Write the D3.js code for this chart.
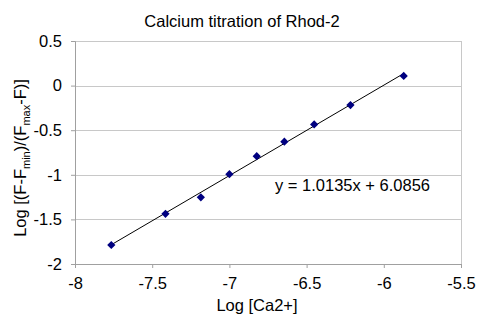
<!DOCTYPE html>
<html>
<head>
<meta charset="utf-8">
<script src="https://cdn.jsdelivr.net/npm/d3@7"></script>
<style>
  body { margin: 0; background: #fff; }
  svg text { font-family: "Liberation Sans", Arial, sans-serif; fill: #000; }
</style>
</head>
<body>
<div id="vis"></div>
<script>
const logCa = [-7.765, -7.414, -7.185, -7.0, -6.823, -6.644, -6.451, -6.216, -5.871];
const logRatio = [-1.787, -1.438, -1.252, -0.993, -0.791, -0.629, -0.435, -0.218, 0.108];
const xTicks = [-8, -7.5, -7, -6.5, -6, -5.5];
const yTicks = [-2, -1.5, -1, -0.5, 0, 0.5];
const slope = 1.0135;
const intercept = 6.0856;

const FRAME_WIDTH = 477;
const FRAME_HEIGHT = 316;
const MARGINS = {left: 75, right: 16, top: 41, bottom: 52};
const VIS_WIDTH = FRAME_WIDTH - MARGINS.left - MARGINS.right;
const VIS_HEIGHT = FRAME_HEIGHT - MARGINS.top - MARGINS.bottom;

const svg = d3.select("#vis").append("svg")
  .attr("width", FRAME_WIDTH)
  .attr("height", FRAME_HEIGHT);

const X_SCALE = d3.scaleLinear().domain([-8, -5.5]).range([MARGINS.left, MARGINS.left + VIS_WIDTH]);
const Y_SCALE = d3.scaleLinear().domain([-2, 0.5]).range([MARGINS.top + VIS_HEIGHT, MARGINS.top]);

// gridlines
svg.append("g").selectAll("line")
  .data(yTicks)
  .enter().append("line")
    .attr("x1", X_SCALE(-8)).attr("x2", X_SCALE(-5.5))
    .attr("y1", d => Math.round(Y_SCALE(d)) + 0.5)
    .attr("y2", d => Math.round(Y_SCALE(d)) + 0.5)
    .attr("stroke", "#c8c8c8");

// plot border
svg.append("rect")
  .attr("x", MARGINS.left + 0.5).attr("y", MARGINS.top + 0.5)
  .attr("width", VIS_WIDTH).attr("height", VIS_HEIGHT)
  .attr("fill", "none").attr("stroke", "#c8c8c8");

// axes - plain hyphen minus like the original
const fmt = d => String(d);
const xAxis = svg.append("g")
  .attr("transform", "translate(0," + (MARGINS.top + VIS_HEIGHT) + ")")
  .call(d3.axisBottom(X_SCALE).tickValues(xTicks).tickSize(4).tickPadding(6).tickFormat(fmt));
const yAxis = svg.append("g")
  .attr("transform", "translate(" + MARGINS.left + ",0)")
  .call(d3.axisLeft(Y_SCALE).tickValues(yTicks).tickSize(4).tickPadding(9).tickFormat(fmt));

[xAxis, yAxis].forEach(a => {
  a.select(".domain").attr("stroke", "#a0a0a0");
  a.selectAll(".tick line").attr("stroke", "#a0a0a0");
  a.selectAll("text").attr("font-size", "16.5px").attr("fill", "#000")
    .attr("font-family", "Liberation Sans, Arial, sans-serif");
});
xAxis.selectAll("text").attr("dy", "0.9em");

// trendline
const xr = d3.extent(logCa);
svg.append("line")
  .attr("x1", X_SCALE(xr[0])).attr("y1", Y_SCALE(slope * xr[0] + intercept))
  .attr("x2", X_SCALE(xr[1])).attr("y2", Y_SCALE(slope * xr[1] + intercept))
  .attr("stroke", "#000").attr("stroke-width", 1);

// markers
svg.append("g").selectAll("path")
  .data(logCa.map((x, i) => [x, logRatio[i]]))
  .enter().append("path")
    .attr("d", d3.symbol().type(d3.symbolSquare).size(34))
    .attr("transform", d => "translate(" + X_SCALE(d[0]) + "," + Y_SCALE(d[1]) + ") rotate(45)")
    .attr("fill", "#000080");

// equation
svg.append("text")
  .attr("x", 275).attr("y", 191)
  .attr("font-size", "16.5px")
  .text("y = 1.0135x + 6.0856");

// title
svg.append("text")
  .attr("x", 242).attr("y", 27)
  .attr("text-anchor", "middle")
  .attr("font-size", "16.5px")
  .text("Calcium titration of Rhod-2");

// x label
svg.append("text")
  .attr("x", 257).attr("y", 311)
  .attr("text-anchor", "middle")
  .attr("font-size", "16.5px")
  .text("Log [Ca2+]");

// y label
const yl = svg.append("text")
  .attr("transform", "translate(26,158) rotate(-90)")
  .attr("text-anchor", "middle")
  .attr("font-size", "16.5px");
yl.append("tspan").text("Log [(F-F");
yl.append("tspan").attr("font-size", "11px").attr("dy", 4).text("min");
yl.append("tspan").attr("dy", -4).text(")/(F");
yl.append("tspan").attr("font-size", "11px").attr("dy", 4).text("max");
yl.append("tspan").attr("dy", -4).text("-F)]");
</script>
</body>
</html>
